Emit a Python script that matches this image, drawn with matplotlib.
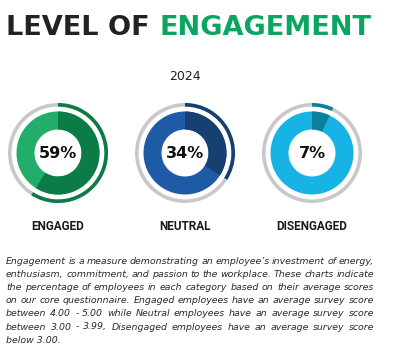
import matplotlib
matplotlib.use("Agg")
import matplotlib.pyplot as plt
from matplotlib.patches import Wedge

# data
categories = ["ENGAGED", "NEUTRAL", "DISENGAGED"]
values = [59, 34, 7]
light_colors = ["#23ad6b", "#1f5aa6", "#17b3e5"]
dark_colors = ["#0b7c45", "#163f72", "#0a7f9e"]
year = "2024"
note_lines = [
    "Engagement is a measure demonstrating an employee\u2019s investment of energy,",
    "enthusiasm, commitment, and passion to the workplace. These charts indicate",
    "the percentage of employees in each category based on their average scores",
    "on our core questionnaire. Engaged employees have an average survey score",
    "between 4.00 - 5.00 while Neutral employees have an average survey score",
    "between 3.00 - 3.99, Disengaged employees have an average survey score",
    "below 3.00.",
]

fig = plt.figure(figsize=(4, 3.54), dpi=100)
ax = fig.add_axes([0, 0, 1, 1])
ax.set_xlim(0, 400)
ax.set_ylim(354, 0)
ax.axis("off")

fig.canvas.draw()
r = fig.canvas.get_renderer()
inv = ax.transData.inverted()


def width_of(a):
    e = a.get_window_extent(r)
    return inv.transform((e.x1, e.y1))[0] - inv.transform((e.x0, e.y0))[0]


# title
t1 = ax.text(6, 28, "LEVEL OF ", fontsize=19.5, fontweight="bold", color="#222222",
             family="DejaVu Sans", va="center", ha="left")
ax.text(6 + width_of(t1), 28, "ENGAGEMENT", fontsize=19.5, fontweight="bold", color="#0aa55f",
        family="DejaVu Sans", va="center", ha="left")

ax.text(185, 76, year, fontsize=9, color="#222222", family="DejaVu Sans", ha="center", va="center")

centers = [58, 185, 312]
cy = 153
for cx, cat, v, lc, dc in zip(centers, categories, values, light_colors, dark_colors):
    end = -90 + 360 * v / 100
    # outer thin ring
    ax.add_patch(Wedge((cx, cy), 50, 0, 360, width=3.6, color="#c8c8c8", lw=0))
    ax.add_patch(Wedge((cx, cy), 50, -90, end, width=3.6, color=dc, lw=0))
    # inner thick donut
    ax.add_patch(Wedge((cx, cy), 41.5, 0, 360, width=18, color=lc, lw=0))
    ax.add_patch(Wedge((cx, cy), 41.5, -90, end, width=18, color=dc, lw=0))
    ax.text(cx, cy + 1, f"{v}%", fontsize=11.5, fontweight="bold", color="#111111",
            family="DejaVu Sans", ha="center", va="center")
    ax.text(cx, 227, cat, fontsize=8.5, fontweight="bold", color="#1a1a1a",
            family="Roboto", ha="center", va="center")

# justified paragraph
left, right = 6, 374
y0, dy = 261, 13.2
fs = 6.75
for i, line in enumerate(note_lines):
    y = y0 + i * dy
    words = line.split(" ")
    if i == len(note_lines) - 1:
        ax.text(left, y, line, fontsize=fs, style="italic", color="#2a2a2a",
                family="DejaVu Sans", ha="left", va="center")
        continue
    arts = [ax.text(0, y, w, fontsize=fs, style="italic", color="#2a2a2a",
                    family="DejaVu Sans", ha="left", va="center") for w in words]
    widths = [width_of(a) for a in arts]
    gap = max((right - left - sum(widths)) / (len(words) - 1), 1.5)
    x = left
    for a, w in zip(arts, widths):
        a.set_x(x)
        x += w + gap

fig.savefig("out.png", dpi=100)
